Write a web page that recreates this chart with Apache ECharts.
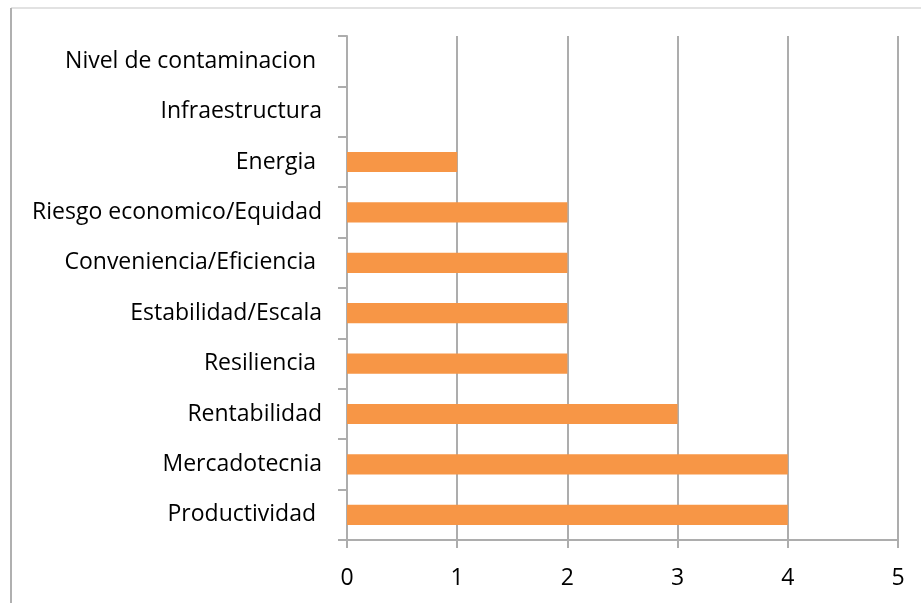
<!DOCTYPE html>
<html>
<head>
<meta charset="utf-8">
<script src="https://cdn.jsdelivr.net/npm/echarts@6/dist/echarts.min.js"></script>
<style>html,body{margin:0;padding:0;background:#fff}#c{width:921px;height:603px}</style>
</head>
<body>
<div id="c"></div>
<script>
const categories = ["Productividad ", "Mercadotecnia", "Rentabilidad", "Resiliencia ", "Estabilidad/Escala", "Conveniencia/Eficiencia ", "Riesgo economico/Equidad", "Energia ", "Infraestructura", "Nivel de contaminacion "];
const values = [4, 4, 3, 2, 2, 2, 2, 1, 0, 0];
const xTicks = [0, 1, 2, 3, 4, 5];

const chart = echarts.init(document.getElementById('c'), null, {renderer: 'canvas'});
const font = '"Open Sans", Lato, sans-serif';
chart.setOption({
  animation: false,
  backgroundColor: '#ffffff',
  grid: {left: 347, right: 23, top: 36, bottom: 63, containLabel: false},
  xAxis: {
    type: 'value', min: xTicks[0], max: xTicks[xTicks.length - 1], interval: 1,
    axisLine: {show: true, lineStyle: {color: '#ADADAD', width: 2}},
    axisTick: {show: true, length: 8, lineStyle: {color: '#ADADAD', width: 2}},
    splitLine: {show: true, lineStyle: {color: '#ADADAD', width: 2}},
    axisLabel: {margin: 27, color: '#000', fontSize: 23, fontFamily: font}
  },
  yAxis: {
    type: 'category', data: categories,
    axisLine: {show: true, lineStyle: {color: '#ADADAD', width: 2}},
    axisTick: {show: true, length: 9, lineStyle: {color: '#ADADAD', width: 2}},
    axisLabel: {margin: 25, color: '#000', fontSize: 23, fontFamily: font, padding: [4, 0, 0, 0]}
  },
  series: [{
    type: 'bar', data: values, barWidth: '40%',
    itemStyle: {color: '#F79646'}
  }],
  graphic: [
    {type: 'line', shape: {x1: 11, y1: 8, x2: 921, y2: 8}, style: {stroke: '#D9D9D9', lineWidth: 1.5}},
    {type: 'line', shape: {x1: 11, y1: 8, x2: 11, y2: 603}, style: {stroke: '#B0B0B0', lineWidth: 2}}
  ]
});
</script>
</body>
</html>
